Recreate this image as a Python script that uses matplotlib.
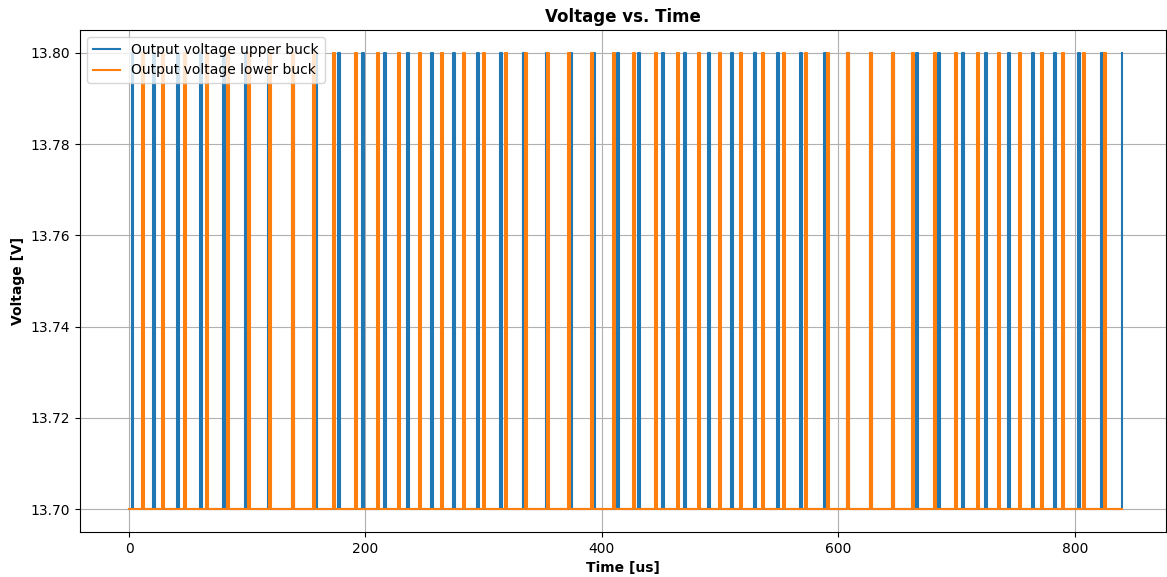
import matplotlib

matplotlib.use("Agg")
import matplotlib.pyplot as plt
import numpy as np

# pulse start times [us]
upper_starts = [2.3, 20.3, 40.6, 60.0, 79.5, 98.1, 117.5, 137.8, 157.3, 176.7,
                197.0, 215.6, 235.1, 255.4, 274.0, 294.3, 313.7, 333.2, 352.6, 372.9,
                392.4, 412.7, 430.4, 450.7, 469.3, 489.6, 509.0, 528.5, 548.0, 567.4,
                587.7, 607.2, 626.6, 645.2, 665.5, 684.1, 704.4, 723.9, 743.3, 763.6,
                782.2, 802.5, 822.0, 839.7]
lower_starts = [10.7, 27.9, 46.5, 65.1, 82.9, 100.6, 118.4, 137.8, 155.6, 172.5,
                191.1, 209.7, 227.5, 245.2, 263.8, 282.4, 299.4, 318.0, 334.9, 353.5,
                371.2, 390.7, 409.3, 426.2, 444.8, 463.4, 481.2, 498.9, 516.7, 535.3,
                553.1, 571.7, 590.3, 607.2, 626.6, 645.2, 662.1, 680.7, 698.5, 717.1,
                734.9, 752.6, 771.2, 789.0, 806.8, 824.5]
upper_width = 1.5
lower_width = 2.0
v_low = 13.70
v_high = 13.80
t_end = 839.7


def pulse_train(starts, width, end, last_open=False):
    t = [0.0]
    v = [v_low]
    for i, s in enumerate(starts):
        t += [s, s]
        v += [v_low, v_high]
        if last_open and i == len(starts) - 1:
            break
        t += [s + width, s + width]
        v += [v_high, v_low]
    else:
        t.append(end)
        v.append(v_low)
    return np.array(t), np.array(v)


tu, vu = pulse_train(upper_starts, upper_width, t_end, last_open=True)
tl, vl = pulse_train(lower_starts, lower_width, t_end)

fig, ax = plt.subplots(figsize=(11.67, 5.77), dpi=100)
ax.plot(tu, vu, label="Output voltage upper buck")
ax.plot(tl, vl, label="Output voltage lower buck")
ax.set_xlim(-41.4, 877.0)
ax.set_title("Voltage vs. Time", fontweight="bold")
ax.set_xlabel("Time [us]", fontweight="bold")
ax.set_ylabel("Voltage [V]", fontweight="bold")
ax.grid(True)
ax.legend(loc="upper left")
fig.subplots_adjust(left=0.0686, right=0.999, top=0.948, bottom=0.078)
plt.savefig("out.png", dpi=100)
plt.close()
